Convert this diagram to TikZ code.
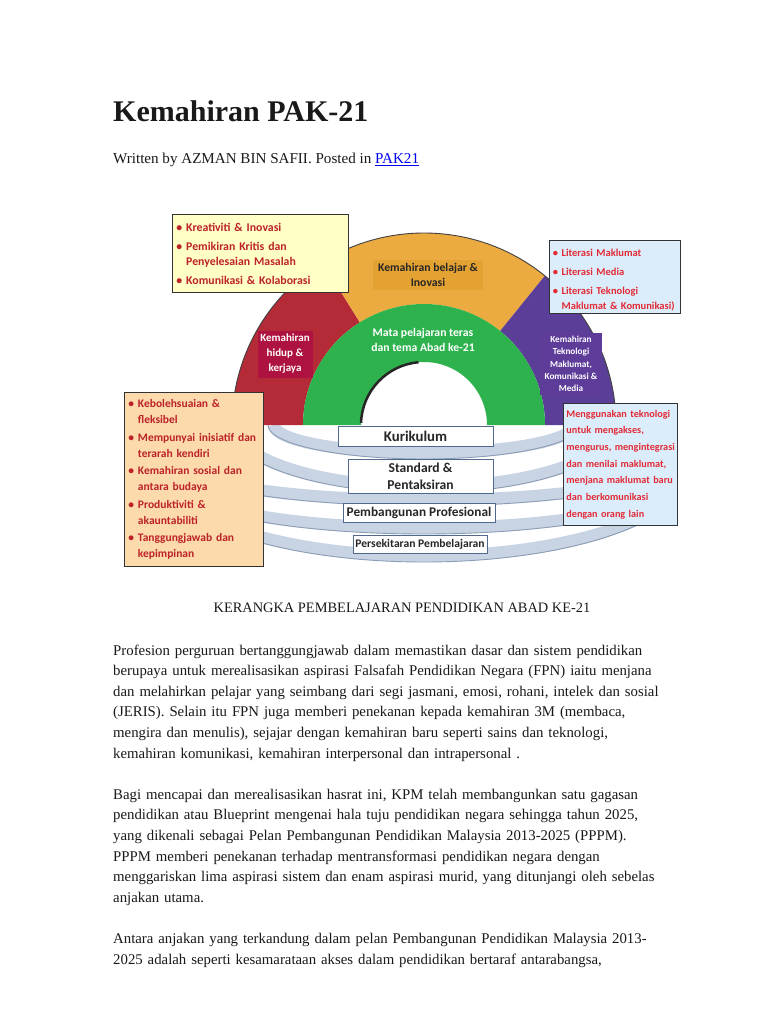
\documentclass[tikz,border=0pt]{standalone}
\usepackage{fontspec}
\setmainfont{Liberation Serif}
\newfontfamily\calib{Carlito}

\definecolor{archred}{HTML}{B52A37}
\definecolor{labelred}{HTML}{AE1240}
\definecolor{archyellow}{HTML}{EBAB40}
\definecolor{labelyellow}{HTML}{E4A233}
\definecolor{archgreen}{HTML}{2EB24D}
\definecolor{archpurple}{HTML}{5B3E97}
\definecolor{labelpurple}{HTML}{5D3C9A}
\definecolor{bandblue}{HTML}{C8D4E4}
\definecolor{bandedge}{HTML}{8C9DB6}
\definecolor{baseedge}{HTML}{50698D}
\definecolor{noteyellow}{HTML}{FFFFC6}
\definecolor{noteblue}{HTML}{DBEDFA}
\definecolor{notepeach}{HTML}{FCDAAC}
\definecolor{textred}{HTML}{BC2228}
\definecolor{brightred}{HTML}{E22A36}
\definecolor{linkblue}{HTML}{0000EE}

\newcommand\bul{\textbullet\ }
\newcommand\ind{\phantom{\textbullet\ }}
\newcommand\jline[1]{\makebox[\linewidth][s]{#1}\par}

\tikzset{
  pagetext/.style={anchor=base west, inner sep=0pt, text=black!90},
  infobox/.style={draw=black!80, line width=0.8pt, anchor=north west, inner xsep=4pt, inner ysep=2pt,
    align=left, font=\calib\bfseries\fontsize{11.8}{15}\selectfont},
  archlabel/.style={inner sep=2pt, align=center, font=\calib\bfseries\fontsize{11.7}{14.5}\selectfont},
  basebox/.style={draw=baseedge, line width=0.8pt, fill=white, inner sep=1pt, align=center,
    text=black!85, font=\calib\bfseries\fontsize{13.6}{17}\selectfont},
  bandfill/.style={draw=bandblue, line width=12pt},
  bandline/.style={draw=bandedge, line width=0.9pt}
}

\begin{document}
\begin{tikzpicture}[x=1pt, y=1pt]
\fill[white] (0,0) rectangle (768,-1024);
\useasboundingbox (0,0) rectangle (768,-1024);

% heading
\node[pagetext, font=\bfseries\fontsize{30}{36}\selectfont] (title) at (113,-122) {Kemahiran PAK-21};
\node[pagetext, font=\fontsize{15.1}{18}\selectfont] (byline) at (113,-164)
  {Written by AZMAN BIN SAFII. Posted in \textcolor{linkblue}{\underline{PAK21}}};

% base bands
\begin{scope}
\clip (232,-425) rectangle (665,-580);
\foreach \cy/\rx/\ry in {425/150/28, 425/190/62, 460/250/40, 480/250/48, 470/260/86} {
  \draw[bandfill] ({424-\rx},-\cy) arc (180:360:{\rx} and {\ry});
  \draw[bandline] ({424-\rx-6},-\cy) arc (180:360:{\rx+6} and {\ry+6});
}
\end{scope}

% arch
\coordinate (ctr) at (424,-425);
\fill[archred] ([shift={(180:192)}]ctr) arc (180:122:192) -- ([shift={(122:121)}]ctr) arc (122:180:121) -- cycle;
\fill[archyellow] ([shift={(122:192)}]ctr) arc (122:51:192) -- ([shift={(51:121)}]ctr) arc (51:122:121) -- cycle;
\fill[archpurple] ([shift={(51:192)}]ctr) arc (51:0:192) -- ([shift={(0:121)}]ctr) arc (0:51:121) -- cycle;
\fill[archgreen] ([shift={(180:121)}]ctr) arc (180:0:121) -- ([shift={(0:63)}]ctr) arc (0:180:63) -- cycle;
\draw[black!75, line width=0.9pt] ([shift={(180:192)}]ctr) arc (180:0:192);
\draw[black!85, line width=2.5pt] ([shift={(95:63)}]ctr) arc (95:178:63);

% arch labels
\node[archlabel, fill=labelyellow, text=black!85, minimum width=110pt, minimum height=30pt] (belajar) at (428,-275)
  {Kemahiran belajar \&\\Inovasi};
\node[archlabel, text=white] (teras) at (423,-340) {Mata pelajaran teras\\dan tema Abad ke-21};
\node[archlabel, fill=labelred, text=white, font=\calib\bfseries\fontsize{11}{15}\selectfont,
  minimum width=55pt, minimum height=47pt] (hidup) at (285,-354) {Kemahiran\\hidup \&\\kerjaya};
\node[archlabel, fill=labelpurple, text=white, font=\calib\bfseries\fontsize{9.2}{12.2}\selectfont,
  minimum width=62pt, minimum height=62pt] (teknologi) at (571,-364)
  {Kemahiran\\Teknologi\\Maklumat,\\Komunikasi \&\\Media};

% base boxes
\node[basebox, font=\calib\bfseries\fontsize{14.8}{17}\selectfont, minimum width=155pt, minimum height=20pt] (kurikulum) at (415.5,-436) {Kurikulum};
\node[basebox, minimum width=145pt, minimum height=34pt] (standard) at (420.5,-476) {Standard \&\\Pentaksiran};
\node[basebox, font=\calib\bfseries\fontsize{13.3}{16}\selectfont, minimum width=152pt, minimum height=19pt] (profesional) at (419,-512.5) {Pembangunan Profesional};
\node[basebox, font=\calib\bfseries\fontsize{11.6}{14}\selectfont, minimum width=134pt, minimum height=18pt] (persekitaran) at (420,-544) {Persekitaran Pembelajaran};

% side notes
\node[infobox, fill=noteyellow, text=textred, text width=168pt, minimum height=78pt] (kreativiti) at (172,-214)
  {\bul Kreativiti \& Inovasi\\[4pt]
   \bul Pemikiran Kritis dan\\ \ind Penyelesaian Masalah\\[4pt]
   \bul Komunikasi \& Kolaborasi};
\node[infobox, fill=noteblue, text=brightred, inner xsep=3.5pt, text width=124pt, minimum height=73pt,
  font=\calib\bfseries\fontsize{10.5}{15}\selectfont] (literasi) at (549,-240)
  {\rule{0pt}{14pt}\bul Literasi Maklumat\\[4pt]
   \bul Literasi Media\\[4pt]
   \bul Literasi Teknologi\\ \ind Maklumat \& Komunikasi)};
\node[infobox, fill=notepeach, text=textred, text width=131pt, minimum height=174pt,
  font=\calib\bfseries\fontsize{11.5}{16}\selectfont] (sosial) at (124,-392)
  {\bul Kebolehsuaian \&\\ \ind fleksibel\\[1.5pt]
   \bul Mempunyai inisiatif dan\\ \ind terarah kendiri\\[1.5pt]
   \bul Kemahiran sosial dan\\ \ind antara budaya\\[1.5pt]
   \bul Produktiviti \&\\ \ind akauntabiliti\\[1.5pt]
   \bul Tanggungjawab dan\\ \ind kepimpinan};
\node[infobox, fill=noteblue, text=brightred, inner xsep=3pt, text width=108pt, minimum height=122pt,
  font=\calib\bfseries\fontsize{10.2}{16.7}\selectfont] (maklumat) at (563,-403)
  {Menggunakan teknologi\\ untuk mengakses,\\ \mbox{mengurus, mengintegrasi}\\ dan menilai maklumat,\\
   menjana maklumat baru\\ dan berkomunikasi\\ dengan orang lain};

% caption and article text
\node[inner sep=0pt, anchor=base, text=black!90, font=\fontsize{14.4}{18}\selectfont] (caption) at (402,-612)
  {KERANGKA PEMBELAJARAN PENDIDIKAN ABAD KE-21};
\node[pagetext, text width=542pt, font=\fontsize{14.8}{20.6}\selectfont] (body) at (113,-655) {%
\jline{Profesion perguruan bertanggungjawab dalam memastikan dasar dan sistem pendidikan}
\jline{berupaya untuk merealisasikan aspirasi Falsafah Pendidikan Negara (FPN) iaitu menjana}
\jline{dan melahirkan pelajar yang seimbang dari segi jasmani, emosi, rohani, intelek dan sosial}
\jline{(JERIS). Selain itu FPN juga memberi penekanan kepada kemahiran 3M (membaca,}
\jline{mengira dan menulis), sejajar dengan kemahiran baru seperti sains dan teknologi,}
kemahiran komunikasi, kemahiran interpersonal dan intrapersonal .\par
\mbox{}\par
\jline{Bagi mencapai dan merealisasikan hasrat ini, KPM telah membangunkan satu gagasan}
\jline{pendidikan atau Blueprint mengenai hala tuju pendidikan negara sehingga tahun 2025,}
\jline{yang dikenali sebagai Pelan Pembangunan Pendidikan Malaysia 2013-2025 (PPPM).}
\jline{PPPM memberi penekanan terhadap mentransformasi pendidikan negara dengan}
\jline{menggariskan lima aspirasi sistem dan enam aspirasi murid, yang ditunjangi oleh sebelas}
anjakan utama.\par
\mbox{}\par
\jline{Antara anjakan yang terkandung dalam pelan Pembangunan Pendidikan Malaysia 2013-}
\jline{2025 adalah seperti kesamarataan akses dalam pendidikan bertaraf antarabangsa,}
};
\end{tikzpicture}
\end{document}
